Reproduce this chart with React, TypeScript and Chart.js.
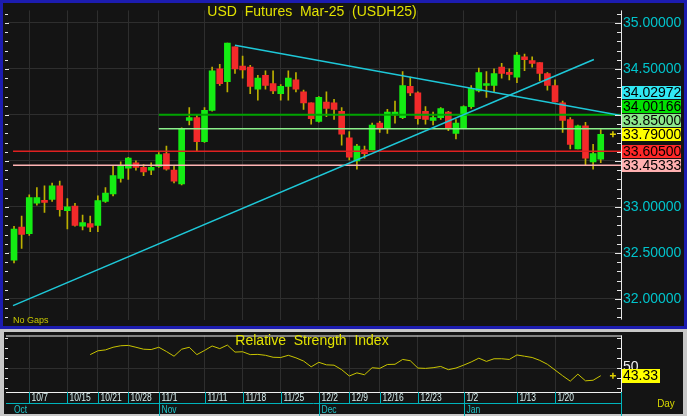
import React, { useEffect, useRef } from 'react';
import { Chart, registerables } from 'chart.js';
Chart.register(...registerables);

// ---------- DATA ----------
const dates = [
  '10/3','10/4','10/7','10/8','10/9','10/10','10/11','10/15','10/16','10/17',
  '10/18','10/21','10/22','10/24','10/25','10/28','10/29','10/30','10/31','11/1',
  '11/4','11/5','11/6','11/7','11/8','11/11','11/12','11/13','11/14','11/15',
  '11/18','11/19','11/20','11/21','11/22','11/25','11/26','11/27','11/28','11/29',
  '12/2','12/3','12/4','12/6','12/9','12/11','12/12','12/13','12/16','12/17',
  '12/18','12/19','12/20','12/23','12/24','12/25','12/26','12/27','12/30','1/2',
  '1/3','1/6','1/7','1/8','1/9','1/10','1/13','1/14','1/15','1/16',
  '1/17','1/20','1/21','1/22','1/23','1/24','1/27','1/28'
];
const opens = [
  32.42,32.78,32.71,33.04,33.07,33.08,33.23,32.96,33.01,32.79,
  32.82,32.80,33.06,33.14,33.31,33.42,33.48,33.43,33.40,33.44,
  33.58,33.40,33.25,33.94,33.97,33.71,34.05,34.50,34.36,34.74,
  34.53,34.52,34.28,34.43,34.34,34.23,34.31,34.38,34.25,34.13,
  33.93,34.14,34.13,34.04,33.75,33.50,33.62,33.62,33.91,33.85,
  34.00,33.97,34.31,34.24,34.04,33.94,33.97,34.03,33.80,33.86,
  34.09,34.26,34.32,34.32,34.52,34.45,34.41,34.63,34.59,34.57,
  34.45,34.32,34.13,33.95,33.63,33.88,33.49,33.52
];
const highs = [
  32.79,32.90,33.13,33.21,33.23,33.26,33.28,33.09,33.04,32.91,
  32.90,33.12,33.21,33.44,33.49,33.54,33.50,33.46,33.48,33.59,
  33.66,33.44,33.86,34.08,34.00,34.08,34.52,34.55,34.78,34.74,
  34.64,34.54,34.43,34.48,34.48,34.33,34.48,34.46,34.27,34.13,
  34.20,34.25,34.17,34.08,33.82,33.68,33.66,33.91,33.93,34.06,
  34.15,34.47,34.41,34.25,34.09,34.03,34.08,34.04,33.95,34.10,
  34.32,34.51,34.47,34.50,34.56,34.50,34.68,34.66,34.63,34.57,
  34.46,34.38,34.15,33.97,33.89,33.92,33.68,33.84
];
const lows = [
  32.39,32.55,32.69,33.02,32.94,33.06,32.90,32.76,32.79,32.75,
  32.73,32.73,33.05,33.12,33.27,33.30,33.40,33.34,33.35,33.43,
  33.40,33.26,33.24,33.89,33.61,33.70,34.04,34.32,34.25,34.45,
  34.40,34.23,34.16,34.28,34.23,34.16,34.16,34.25,34.06,33.90,
  33.92,33.98,33.95,33.67,33.51,33.41,33.53,33.62,33.81,33.80,
  33.91,33.96,34.21,33.90,33.90,33.89,33.95,33.83,33.74,33.86,
  34.07,34.25,34.19,34.25,34.40,34.38,34.35,34.48,34.52,34.37,
  34.27,34.14,33.81,33.63,33.63,33.46,33.41,33.48
];
const closes = [
  32.76,32.70,33.10,33.10,33.05,33.23,32.97,33.00,32.80,32.83,
  32.78,33.07,33.15,33.34,33.44,33.53,33.43,33.38,33.43,33.57,
  33.41,33.28,33.85,33.97,33.71,34.05,34.48,34.34,34.78,34.50,
  34.49,34.31,34.40,34.32,34.26,34.31,34.40,34.28,34.13,33.96,
  34.19,34.07,34.06,33.79,33.54,33.66,33.58,33.89,33.85,34.03,
  34.03,34.32,34.24,33.96,33.95,33.97,34.07,33.86,33.91,34.09,
  34.29,34.46,34.34,34.45,34.45,34.44,34.65,34.60,34.56,34.45,
  34.32,34.14,33.94,33.68,33.88,33.53,33.58,33.79
];
const rsiStartIndex = 10;
const rsiValues = [
  61.7,65.0,65.8,68.1,69.4,69.7,68.1,66.4,66.1,68.1,
  64.4,60.3,66.4,68.1,61.7,65.3,69.2,66.9,70.0,63.9,
  64.2,61.7,61.9,61.1,59.4,59.2,61.1,58.9,56.1,51.1,
  55.0,52.8,52.5,48.6,43.1,45.8,44.2,50.3,49.7,53.1,
  53.3,57.5,56.4,50.0,49.7,50.3,51.4,48.6,50.0,52.5,
  55.3,58.6,55.8,58.1,58.1,57.5,61.4,60.3,59.2,56.7,
  53.3,48.3,43.3,38.6,44.7,38.9,39.4,43.33
];
const priceTicks = [32, 32.5, 33, 33.5, 34, 34.5, 35];
const hiddenPriceTicks = [33.5, 34];
const dateTickLabels = ['10/7','10/15','10/21','10/28','11/1','11/11','11/18','11/25','12/2','12/9','12/16','12/23','1/2','1/13','1/20'];
const monthLabels = ['Nov', 'Dec', 'Jan'];
const monthStartDates = ['11/1', '12/2', '1/2'];
const firstMonthLabel = 'Oct';
const levelValues = [34.00166, 33.85, 33.605, 33.45333];
const levelStarts = [19, 19, -0.13, -0.13];
const levelColors = ['#00a400', '#8cf08c', '#e02020', '#ffb4b4'];
const levelWidths = [2, 1.5, 1.5, 1.5];
const boxValues = [34.02972, 34.00166, 33.85, 33.79, 33.605, 33.45333];
const boxColors = ['#30e8f4', '#00e000', '#8ce88c', '#ffff00', '#ff2828', '#ffb0b0'];
const trendUpX = [-0.13, 76.1];
const trendUpY = [31.927, 34.603];
const trendDownX = [29.0, 79.66];
const trendDownY = [34.758, 33.994];
const lastMarkerX = 78.6;
const rsiLastLabel = 43.33;
const rsiRefLevel = 50;

// ---------- STYLE ----------
const FONT = '"Liberation Sans", Arial, Helvetica, sans-serif';
const BG = '#141414';
const GRID = '#2e2e2e';
const X_MIN = -0.79;
const X_MAX = 79.66;
const P_MIN = 31.775;
const P_MAX = 35.136;
const R_MIN = 29.17;
const R_MAX = 78.33;

function drawText(ctx: CanvasRenderingContext2D, s: string, x: number, y: number, size: number, color: string, align: CanvasTextAlign = 'left', sx = 1) {
  ctx.save();
  ctx.font = `${size}px ${FONT}`;
  ctx.fillStyle = color;
  ctx.textAlign = align;
  ctx.textBaseline = 'middle';
  ctx.translate(x, y);
  ctx.scale(sx, 1);
  ctx.fillText(s, 0, 0);
  ctx.restore();
}

const dateTickIdx = dateTickLabels.map((d) => dates.indexOf(d));

function xScaleOpts() {
  return {
    type: 'linear' as const,
    min: X_MIN,
    max: X_MAX,
    offset: false,
    grid: { color: GRID, drawTicks: false, offset: false, lineWidth: 1 },
    border: { display: false },
    ticks: { display: false },
    afterBuildTicks: (s: any) => { s.ticks = dateTickIdx.map((v) => ({ value: v })); },
    afterFit: (s: any) => { s.height = 0; },
  };
}

const pricePlugin = {
  id: 'priceDeco',
  beforeDraw(chart: any) {
    const { ctx, width } = chart;
    ctx.save();
    ctx.fillStyle = '#c4c4c4';
    ctx.fillRect(0, 0, width, 330);
    ctx.fillStyle = '#1c1cb0';
    ctx.fillRect(0, 0, width, 329);
    ctx.fillStyle = BG;
    ctx.fillRect(3, 3, width - 6, 323);
    ctx.restore();
  },
  afterDraw(chart: any) {
    const { ctx, chartArea: a } = chart;
    const ys = chart.scales.y;
    ctx.save();
    ctx.strokeStyle = '#e6e6e6';
    ctx.lineWidth = 1;
    ctx.beginPath();
    ctx.moveTo(a.right + 0.5, a.top);
    ctx.lineTo(a.right + 0.5, a.bottom);
    ctx.stroke();
    for (let k = 318; k <= 351; k++) {
      const y = Math.round(ys.getPixelForValue(k / 10)) + 0.5;
      if (y < a.top || y > a.bottom) continue;
      const major = k % 5 === 0;
      ctx.beginPath();
      ctx.moveTo(a.right - (major ? 6 : 4), y);
      ctx.lineTo(a.right, y);
      ctx.moveTo(a.left - 3, y);
      ctx.lineTo(a.left + (major ? 1 : 0), y);
      ctx.stroke();
    }
    ctx.restore();

    drawText(ctx, 'USD  Futures  Mar-25  (USDH25)', 312, 12, 14, '#e2e200', 'center');
    drawText(ctx, 'No Gaps', 13, 321, 9, '#c8c800');

    const items = boxValues.map((v, i) => ({ v, c: boxColors[i], y: ys.getPixelForValue(v), yy: 0 }));
    items.sort((p, q) => q.y - p.y);
    let prev = Infinity;
    for (const it of items) {
      it.yy = Math.min(it.y, prev - 14);
      prev = it.yy;
    }
    ctx.save();
    for (const it of items) {
      const top = Math.round(it.yy - 6.5);
      ctx.fillStyle = it.c;
      ctx.fillRect(a.right + 1, top, 59, 13);
      drawText(ctx, it.v.toFixed(5), a.right + 2, top + 7, 14, '#000000');
    }
    ctx.restore();
  },
};

const rsiPlugin = {
  id: 'rsiDeco',
  beforeDraw(chart: any) {
    const { ctx, width, height } = chart;
    ctx.save();
    ctx.fillStyle = '#c8c8c8';
    ctx.fillRect(0, 0, width, height);
    ctx.fillStyle = BG;
    ctx.fillRect(4, 2, width - 8, height - 4);
    ctx.restore();
  },
  afterDraw(chart: any) {
    const { ctx, chartArea: a } = chart;
    const xs = chart.scales.x;
    const ys = chart.scales.y;
    const H = chart.height;
    const rowMid = 73;
    ctx.save();
    ctx.lineWidth = 1;
    ctx.strokeStyle = '#f0f0f0';
    ctx.beginPath();
    ctx.moveTo(6, a.top + 0.5); ctx.lineTo(a.right + 1, a.top + 0.5);
    ctx.moveTo(6, a.bottom + 0.5); ctx.lineTo(a.right + 1, a.bottom + 0.5);
    ctx.moveTo(a.right + 0.5, a.top); ctx.lineTo(a.right + 0.5, a.bottom);
    ctx.stroke();
    // side ticks
    const y50 = ys.getPixelForValue(rsiRefLevel);
    for (let k = -3; k <= 4; k++) {
      const y = Math.round(y50 + k * 10) + 0.5;
      if (y < a.top + 2 || y > a.bottom - 1) continue;
      ctx.beginPath();
      ctx.moveTo(a.right - 4, y); ctx.lineTo(a.right, y);
      ctx.moveTo(a.left - 3, y); ctx.lineTo(a.left, y);
      ctx.stroke();
    }
    // date axis
    ctx.strokeStyle = '#00b4bc';
    ctx.beginPath();
    ctx.moveTo(6, rowMid + 0.5); ctx.lineTo(a.right, rowMid + 0.5);
    ctx.moveTo(a.right + 0.5, a.bottom); ctx.lineTo(a.right + 0.5, H);
    ctx.stroke();
    dateTickLabels.forEach((lab, i) => {
      const x = Math.round(xs.getPixelForValue(dateTickIdx[i])) + 0.5;
      ctx.beginPath();
      ctx.moveTo(x, a.bottom); ctx.lineTo(x, rowMid);
      ctx.stroke();
      drawText(ctx, lab, x + 2, (a.bottom + rowMid) / 2 + 1, 10, '#d4ecec', 'left', 0.85);
    });
    monthLabels.forEach((lab, i) => {
      const x = Math.round(xs.getPixelForValue(dates.indexOf(monthStartDates[i]))) + 0.5;
      ctx.beginPath();
      ctx.moveTo(x, rowMid); ctx.lineTo(x, H);
      ctx.stroke();
      drawText(ctx, lab, x + 2, rowMid + 7, 10, '#20c4c8', 'left', 0.85);
    });
    drawText(ctx, firstMonthLabel, 14, rowMid + 7, 10, '#20c4c8', 'left', 0.85);
    drawText(ctx, 'Day', 666, 74, 11, '#d8d800', 'center', 0.9);
    ctx.restore();

    drawText(ctx, 'Relative  Strength  Index', 312, 11, 14, '#e2e200', 'center');
    drawText(ctx, String(rsiRefLevel), a.right + 2, y50 - 1, 14, '#f0f0f0');
    const yl = Math.round(ys.getPixelForValue(rsiLastLabel));
    ctx.save();
    ctx.fillStyle = '#ffff00';
    ctx.fillRect(a.right + 1, yl - 7, 38, 14);
    ctx.restore();
    drawText(ctx, rsiLastLabel.toFixed(2), a.right + 2, yl, 14, '#000000');
  },
};

export default function App() {
  const priceRef = useRef<HTMLCanvasElement>(null);
  const rsiRef = useRef<HTMLCanvasElement>(null);

  useEffect(() => {
    const idx = dates.map((_, i) => i);
    const bodyColors = idx.map((i) => (closes[i] >= opens[i] ? '#14ec14' : '#f22a2a'));
    const levelSets = levelValues.map((v, i) => ({
      type: 'line' as const,
      data: [{ x: levelStarts[i], y: v }, { x: X_MAX, y: v }],
      borderColor: levelColors[i],
      borderWidth: levelWidths[i],
      pointRadius: 0,
      order: 3,
    }));
    const priceChart = new Chart(priceRef.current!, {
      type: 'bar',
      data: {
        datasets: [
          {
            type: 'bar',
            data: idx.map((i) => ({ x: i, y: [lows[i], highs[i]] })) as any,
            backgroundColor: '#bcb000',
            barThickness: 1,
            grouped: false,
            order: 6,
          } as any,
          {
            type: 'bar',
            data: idx.map((i) => ({ x: i, y: [opens[i], closes[i]] })) as any,
            backgroundColor: bodyColors,
            barThickness: 6,
            minBarLength: 2,
            grouped: false,
            order: 5,
          } as any,
          ...levelSets,
          {
            type: 'line',
            data: trendUpX.map((x, i) => ({ x, y: trendUpY[i] })),
            borderColor: '#1ec8d8',
            borderWidth: 1.6,
            pointRadius: 0,
            order: 2,
          },
          {
            type: 'line',
            data: trendDownX.map((x, i) => ({ x, y: trendDownY[i] })),
            borderColor: '#1ec8d8',
            borderWidth: 1.6,
            pointRadius: 0,
            order: 2,
          },
          {
            type: 'line',
            data: [{ x: lastMarkerX, y: closes[closes.length - 1] }],
            showLine: false,
            pointStyle: 'cross',
            pointRadius: 3,
            borderColor: '#e0d000',
            borderWidth: 1.5,
            order: 1,
          },
        ] as any,
      },
      options: {
        animation: false,
        responsive: false,
        devicePixelRatio: 1,
        events: [],
        layout: { padding: { left: 8, top: 5, right: 3, bottom: 4 } },
        plugins: { legend: { display: false }, tooltip: { enabled: false } },
        scales: {
          x: xScaleOpts() as any,
          y: {
            type: 'linear',
            position: 'right',
            min: P_MIN,
            max: P_MAX,
            grid: { color: GRID, drawTicks: false },
            border: { display: false },
            ticks: {
              color: '#00c4cc',
              padding: 2,
              font: { family: FONT, size: 14 },
              callback: (v: any) => (hiddenPriceTicks.includes(Number(v)) ? '' : Number(v).toFixed(5)),
            },
            afterBuildTicks: (s: any) => { s.ticks = priceTicks.map((v) => ({ value: v })); },
            afterFit: (s: any) => { s.width = 63; },
          } as any,
        },
      },
      plugins: [pricePlugin],
    });

    const rsiChart = new Chart(rsiRef.current!, {
      type: 'line',
      data: {
        datasets: [
          {
            data: rsiValues.map((v, i) => ({ x: rsiStartIndex + i, y: v })),
            borderColor: '#c8c400',
            borderWidth: 1,
            pointRadius: 0,
          },
          {
            data: [{ x: lastMarkerX, y: rsiLastLabel }],
            showLine: false,
            pointStyle: 'cross',
            pointRadius: 3,
            borderColor: '#e0d000',
            borderWidth: 1.5,
          },
        ] as any,
      },
      options: {
        animation: false,
        responsive: false,
        devicePixelRatio: 1,
        events: [],
        layout: { padding: { left: 8, top: 3, right: 3, bottom: 24 } },
        plugins: { legend: { display: false }, tooltip: { enabled: false } },
        scales: {
          x: xScaleOpts() as any,
          y: {
            type: 'linear',
            position: 'right',
            min: R_MIN,
            max: R_MAX,
            grid: { color: GRID, drawTicks: false },
            border: { display: false },
            ticks: { display: false },
            afterBuildTicks: (s: any) => { s.ticks = [{ value: rsiRefLevel }]; },
            afterFit: (s: any) => { s.width = 63; },
          } as any,
        },
      },
      plugins: [rsiPlugin],
    });

    return () => {
      priceChart.destroy();
      rsiChart.destroy();
    };
  }, []);

  return (
    <div style={{ position: 'fixed', left: 0, top: 0, width: 687, height: 416, background: '#c4c4c4', overflow: 'hidden' }}>
      <canvas ref={priceRef} width={687} height={330} style={{ position: 'absolute', left: 0, top: 0, width: 687, height: 330 }} />
      <canvas ref={rsiRef} width={687} height={86} style={{ position: 'absolute', left: 0, top: 330, width: 687, height: 86 }} />
    </div>
  );
}
